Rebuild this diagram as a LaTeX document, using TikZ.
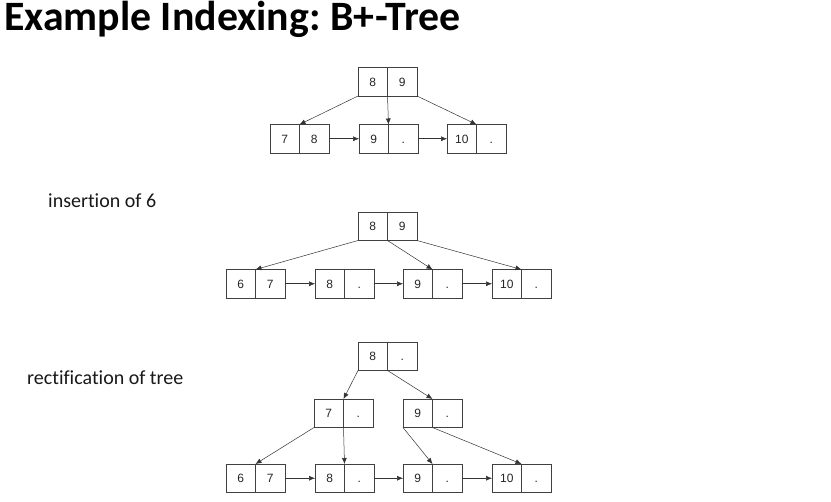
\documentclass[tikz,border=0pt]{standalone}
\usepackage{fontspec}
\setmainfont[Ligatures={NoCommon}]{Carlito}
\newfontfamily\boxfont{Liberation Sans}
\usetikzlibrary{arrows.meta}
\frenchspacing
\begin{document}
\begin{tikzpicture}[x=1pt,y=-1pt,
  cell/.style={draw=black!75, line width=0.6pt, minimum width=29.5pt, minimum height=28.5pt,
    inner sep=0pt, outer sep=0pt, text height=8.6pt, text depth=0pt,
    font=\boxfont\fontsize{12}{14}\selectfont, text=black!85},
  ptr/.style={draw=black!80, line width=0.5pt, -{Latex[length=6pt,width=5pt]}},
  lbl/.style={anchor=base west, inner sep=0pt, font=\fontsize{20}{24}\selectfont, text=black!90}]
\useasboundingbox (0,0) rectangle (831,502);
\fill[white] (0,0) rectangle (831,502);
\node[anchor=base west, inner sep=0pt, font=\bfseries\fontsize{41.8}{46}\selectfont] (title) at (4,30.5) {Example Indexing: B+\kern1.5pt-Tree};
\node[lbl] (lab1) at (48,208) {insertion of 6};
\node[lbl] (lab2) at (27,385) {rectification of tree};
% ---------- tree 1
\node[cell, anchor=north west] (Ra) at (358,67.5) {8};
\node[cell, anchor=west] (Rb) at (Ra.east) {9};
\node[cell, anchor=north west] (Aa) at (270,124.5) {7};
\node[cell, anchor=west] (Ab) at (Aa.east) {8};
\node[cell, anchor=north west] (Ba) at (359,124.5) {9};
\node[cell, anchor=west] (Bb) at (Ba.east) {.};
\node[cell, anchor=north west] (Ca) at (447,124.5) {10};
\node[cell, anchor=west] (Cb) at (Ca.east) {.};
\draw[ptr] (Ra.south west) -- (Ab.north west);
\draw[ptr] (Ra.south east) -- (Ba.north east);
\draw[ptr] (Rb.south east) -- (Cb.north west);
\draw[ptr] (Ab.east) -- (Ba.west);
\draw[ptr] (Bb.east) -- (Ca.west);
% ---------- tree 2
\node[cell, anchor=north west] (Sa) at (358,212) {8};
\node[cell, anchor=west] (Sb) at (Sa.east) {9};
\node[cell, anchor=north west] (Da) at (226,269.5) {6};
\node[cell, anchor=west] (Db) at (Da.east) {7};
\node[cell, anchor=north west] (Ea) at (315,269.5) {8};
\node[cell, anchor=west] (Eb) at (Ea.east) {.};
\node[cell, anchor=north west] (Fa) at (403,269.5) {9};
\node[cell, anchor=west] (Fb) at (Fa.east) {.};
\node[cell, anchor=north west] (Ga) at (492,269.5) {10};
\node[cell, anchor=west] (Gb) at (Ga.east) {.};
\draw[ptr] (Sa.south west) -- (Db.north west);
\draw[ptr] (Sa.south east) -- (Fb.north west);
\draw[ptr] (Sb.south east) -- (Gb.north west);
\draw[ptr] (Db.east) -- (Ea.west);
\draw[ptr] (Eb.east) -- (Fa.west);
\draw[ptr] (Fb.east) -- (Ga.west);
% ---------- tree 3
\node[cell, anchor=north west] (Ta) at (358,342) {8};
\node[cell, anchor=west] (Tb) at (Ta.east) {.};
\node[cell, anchor=north west] (Ma) at (314,399) {7};
\node[cell, anchor=west] (Mb) at (Ma.east) {.};
\node[cell, anchor=north west] (Na) at (403,399) {9};
\node[cell, anchor=west] (Nb) at (Na.east) {.};
\node[cell, anchor=north west] (Ha) at (226,464) {6};
\node[cell, anchor=west] (Hb) at (Ha.east) {7};
\node[cell, anchor=north west] (Ia) at (315,464) {8};
\node[cell, anchor=west] (Ib) at (Ia.east) {.};
\node[cell, anchor=north west] (Ja) at (403,464) {9};
\node[cell, anchor=west] (Jb) at (Ja.east) {.};
\node[cell, anchor=north west] (Ka) at (492,464) {10};
\node[cell, anchor=west] (Kb) at (Ka.east) {.};
\draw[ptr] (Ta.south west) -- (Mb.north west);
\draw[ptr] (Ta.south east) -- (Nb.north west);
\draw[ptr] (Ma.south west) -- (Hb.north west);
\draw[ptr] (Ma.south east) -- (Ib.north west);
\draw[ptr] (Na.south west) -- (Jb.north west);
\draw[ptr] (Na.south east) -- (Kb.north west);
\draw[ptr] (Hb.east) -- (Ia.west);
\draw[ptr] (Ib.east) -- (Ja.west);
\draw[ptr] (Jb.east) -- (Ka.west);
\end{tikzpicture}
\end{document}
